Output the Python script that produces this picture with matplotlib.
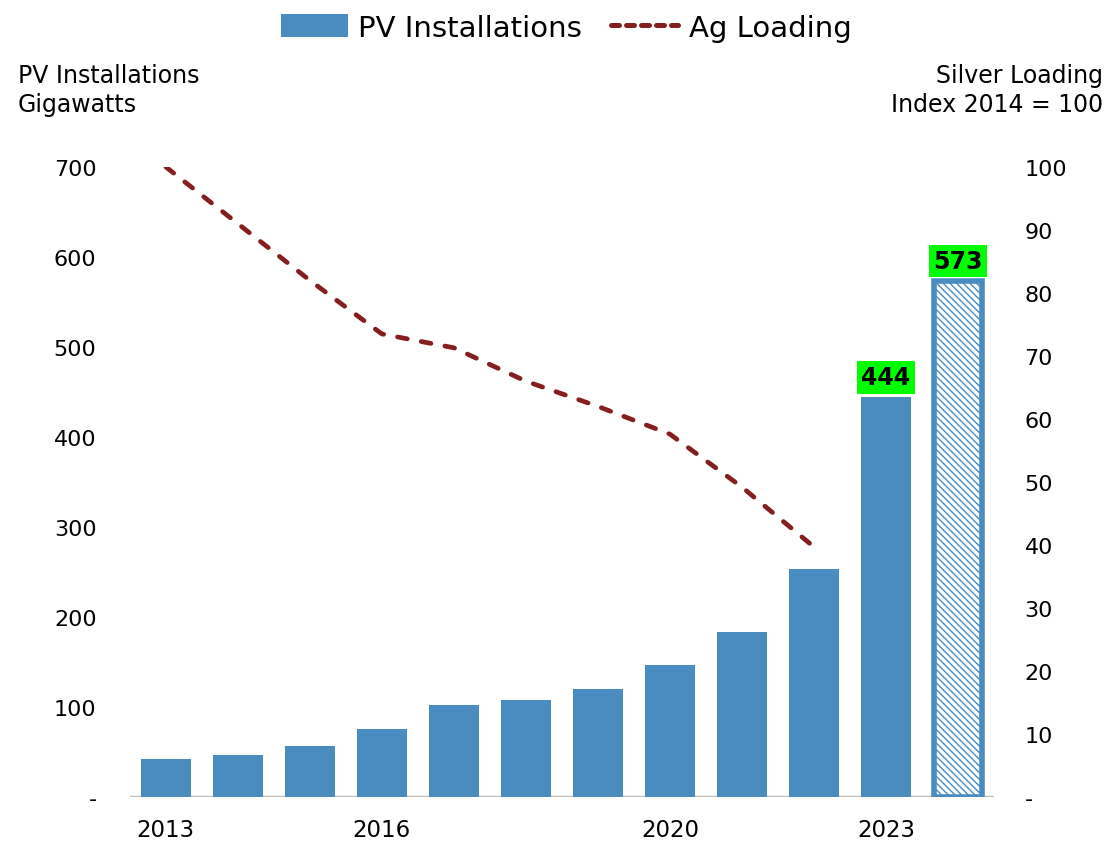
import matplotlib.pyplot as plt
from matplotlib.patches import Patch
from matplotlib.lines import Line2D

# ==================================================
# DATA
# ==================================================

years = [2013, 2014, 2015, 2016, 2017, 2018, 2019, 2020, 2021, 2022, 2023, 2024]
pv_gw = [42, 47, 57, 76, 102, 108, 120, 147, 183, 253, 444, 573]

ag_years = [2013, 2014, 2015, 2016, 2017, 2018, 2019, 2020, 2021, 2022]
ag_index = [100, 91, 82, 73.5, 71.3, 66, 62, 57.6, 49.2, 39.7]

label_years = [2023, 2024]
xtick_years = [2013, 2016, 2020, 2023]

left_ticks = [0, 100, 200, 300, 400, 500, 600, 700]
left_labels = ["-", "100", "200", "300", "400", "500", "600", "700"]
right_ticks = [0, 10, 20, 30, 40, 50, 60, 70, 80, 90, 100]
right_labels = ["-"] + [str(v) for v in right_ticks[1:]]

BLUE = "#4a8bc0"
RED = "#851f1f"
GREEN = "#00ff00"

plt.rcParams["font.family"] = ["DejaVu Sans"]

# ==================================================
# FIGURE
# ==================================================

fig = plt.figure(figsize=(11.1, 8.45), dpi=100)
ax = fig.add_axes([0.117, 0.0556, 0.7784, 0.7456])

for i, (yr, v) in enumerate(zip(years, pv_gw)):
    if yr == 2024:
        ax.bar(i, v, width=0.66, facecolor="white", edgecolor=BLUE,
               linewidth=4, hatch="\\\\\\\\\\", zorder=2)
    else:
        ax.bar(i, v, width=0.7, color=BLUE, zorder=2)

for yr in label_years:
    i = years.index(yr)
    ax.text(i, pv_gw[i] + 9, str(pv_gw[i]), ha="center", va="bottom",
            fontsize=17, fontweight="bold", color="black",
            bbox=dict(facecolor=GREEN, edgecolor="none", pad=3), zorder=5)

ax.axhline(0, color="#bfbfbf", linewidth=2.5, zorder=1)

ax.set_xlim(-0.5, 11.5)
ax.set_ylim(0, 700)
ax.set_yticks(left_ticks)
ax.set_yticklabels(left_labels)
ax.set_xticks([years.index(y) for y in xtick_years])
ax.set_xticklabels([str(y) for y in xtick_years])
ax.tick_params(axis="y", length=0, pad=24, labelsize=16)
ax.tick_params(axis="x", length=0, pad=15, labelsize=16.5)
for s in ax.spines.values():
    s.set_visible(False)

# ==================================================
# SILVER LOADING LINE
# ==================================================

ax2 = ax.twinx()
ax2.plot([years.index(y) for y in ag_years], ag_index, color=RED,
         linewidth=3.4, dashes=(2.1, 3.0), dash_capstyle="round", zorder=3)
ax2.set_ylim(0, 100)
ax2.set_yticks(right_ticks)
ax2.set_yticklabels(right_labels)
ax2.tick_params(axis="y", length=0, pad=22, labelsize=16)
for s in ax2.spines.values():
    s.set_visible(False)

# ==================================================
# TITLES AND LEGEND
# ==================================================

fig.text(0.016, 0.893, "PV Installations\nGigawatts", ha="left", va="center",
         fontsize=17, linespacing=1.3)
fig.text(0.994, 0.893, "Silver Loading\nIndex 2014 = 100", ha="right", va="center",
         fontsize=17, linespacing=1.3)

handles = [
    Patch(facecolor=BLUE, edgecolor="none"),
    Line2D([0], [0], color=RED, linewidth=3.6, dashes=(1.6, 1.4),
           dash_capstyle="round"),
]
fig.legend(handles, ["PV Installations", "Ag Loading"], loc="center",
           bbox_to_anchor=(0.51, 0.966), ncol=2, frameon=False, fontsize=21,
           handlelength=2.3, handleheight=0.8, handletextpad=0.35,
           columnspacing=1.0)

fig.savefig("out.png", dpi=100)
